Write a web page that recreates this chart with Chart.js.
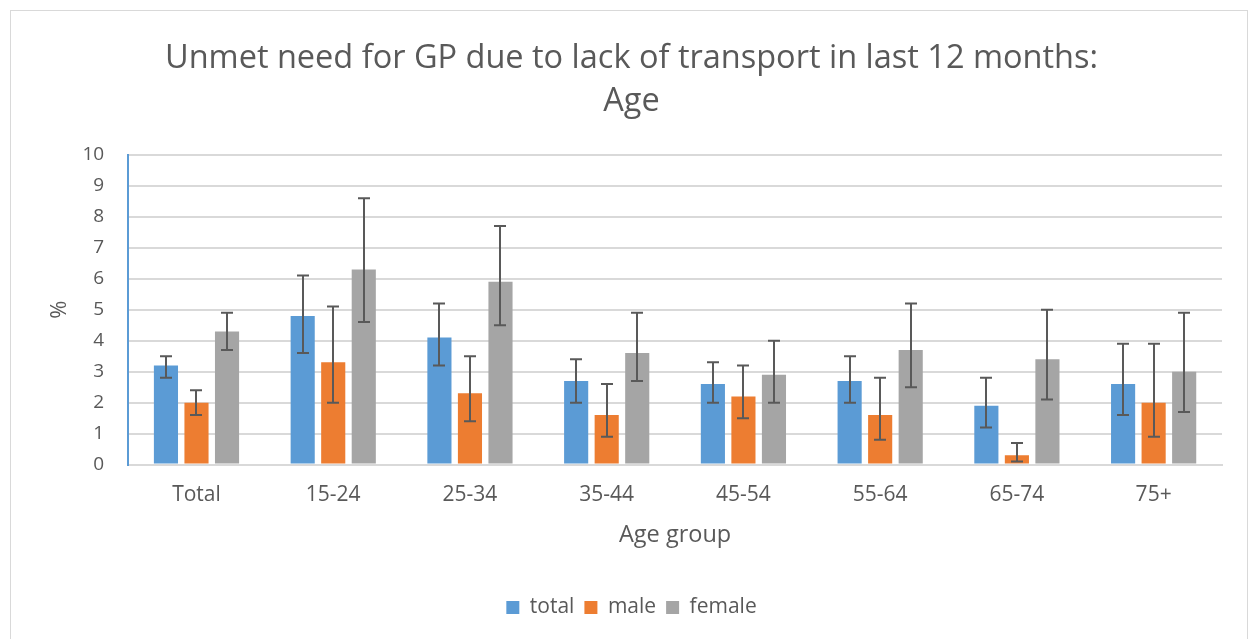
<!DOCTYPE html>
<html>
<head>
<meta charset="utf-8">
<script src="https://cdn.jsdelivr.net/npm/chart.js@4"></script>
<style>
  html, body { margin: 0; padding: 0; background: #fff; }
  #wrap { position: absolute; left: 10px; top: 10px; width: 1238px; height: 640px; border: 1px solid #d9d9d9; box-sizing: border-box; }
  canvas { position: absolute; left: 0; top: 0; }
</style>
</head>
<body>
<div id="wrap"><canvas id="chart" width="1236" height="629"></canvas></div>
<script>
// ---------------- DATA ----------------
const ageGroups = ["Total", "15-24", "25-34", "35-44", "45-54", "55-64", "65-74", "75+"];

const totalValues  = [3.2, 4.8, 4.1, 2.7, 2.6, 2.7, 1.9, 2.6];
const totalLow     = [2.8, 3.6, 3.2, 2.0, 2.0, 2.0, 1.2, 1.6];
const totalHigh    = [3.5, 6.1, 5.2, 3.4, 3.3, 3.5, 2.8, 3.9];

const maleValues   = [2.0, 3.3, 2.3, 1.6, 2.2, 1.6, 0.3, 2.0];
const maleLow      = [1.6, 2.0, 1.4, 0.9, 1.5, 0.8, 0.1, 0.9];
const maleHigh     = [2.4, 5.1, 3.5, 2.6, 3.2, 2.8, 0.7, 3.9];

const femaleValues = [4.3, 6.3, 5.9, 3.6, 2.9, 3.7, 3.4, 3.0];
const femaleLow    = [3.7, 4.6, 4.5, 2.7, 2.0, 2.5, 2.1, 1.7];
const femaleHigh   = [4.9, 8.6, 7.7, 4.9, 4.0, 5.2, 5.0, 4.9];

const yTicks = [0, 1, 2, 3, 4, 5, 6, 7, 8, 9, 10];

// ---------------- ERROR BARS ----------------
const errorBars = {
  id: "errorBars",
  afterDatasetsDraw(chart) {
    const ctx = chart.ctx;
    const yScale = chart.scales.y;
    ctx.save();
    ctx.strokeStyle = "#595959";
    ctx.lineWidth = 2;
    chart.data.datasets.forEach((ds, i) => {
      const meta = chart.getDatasetMeta(i);
      meta.data.forEach((bar, j) => {
        const yLo = yScale.getPixelForValue(ds.low[j]);
        const yHi = yScale.getPixelForValue(ds.high[j]);
        const x = Math.round(bar.x);
        ctx.beginPath();
        ctx.moveTo(x, yLo); ctx.lineTo(x, yHi);
        ctx.moveTo(x - 6, yLo); ctx.lineTo(x + 6, yLo);
        ctx.moveTo(x - 6, yHi); ctx.lineTo(x + 6, yHi);
        ctx.stroke();
      });
    });
    ctx.restore();
  }
};

// ---------------- CHART ----------------
Chart.defaults.font.family = "'Open Sans', sans-serif";
Chart.defaults.color = "#595959";

new Chart(document.getElementById("chart"), {
  type: "bar",
  data: {
    labels: ageGroups,
    datasets: [
      { label: "total", data: totalValues, low: totalLow, high: totalHigh, backgroundColor: "#5b9bd5" },
      { label: "male", data: maleValues, low: maleLow, high: maleHigh, backgroundColor: "#ed7d31" },
      { label: "female", data: femaleValues, low: femaleLow, high: femaleHigh, backgroundColor: "#a5a5a5" }
    ]
  },
  options: {
    responsive: false,
    animation: false,
    categoryPercentage: 0.67,
    barPercentage: 0.79,
    layout: { padding: { left: 30, right: 25, top: 20, bottom: 12 } },
    plugins: {
      title: {
        display: true,
        text: ["Unmet need for GP due to lack of transport in last 12 months:", "Age"],
        font: { size: 32.5, weight: "normal", lineHeight: 1.32 },
        color: "#595959",
        padding: { top: 6, bottom: 32 }
      },
      legend: {
        position: "bottom",
        labels: { boxWidth: 13, boxHeight: 13, font: { size: 21 }, color: "#595959", padding: 10 }
      },
      tooltip: { enabled: false }
    },
    scales: {
      x: {
        grid: { display: false },
        border: { color: "#d9d9d9", width: 2 },
        ticks: { font: { size: 21 }, color: "#595959", padding: 10 },
        title: { display: true, text: "Age group", font: { size: 23.5 }, color: "#595959", padding: { top: 3, bottom: 38 } }
      },
      y: {
        min: 0, max: 10,
        afterBuildTicks: axis => { axis.ticks = yTicks.map(v => ({ value: v })); },
        afterFit: axis => { axis.width -= 15; },
        grid: { color: "#d9d9d9", lineWidth: 2, drawTicks: false },
        border: { color: "#5b9bd5", width: 2 },
        ticks: { font: { size: 19 }, color: "#595959", padding: 24 },
        title: { display: true, text: "%", font: { size: 22 }, color: "#595959", padding: { top: 6, bottom: 0 } }
      }
    }
  },
  plugins: [errorBars]
});
</script>
</body>
</html>
